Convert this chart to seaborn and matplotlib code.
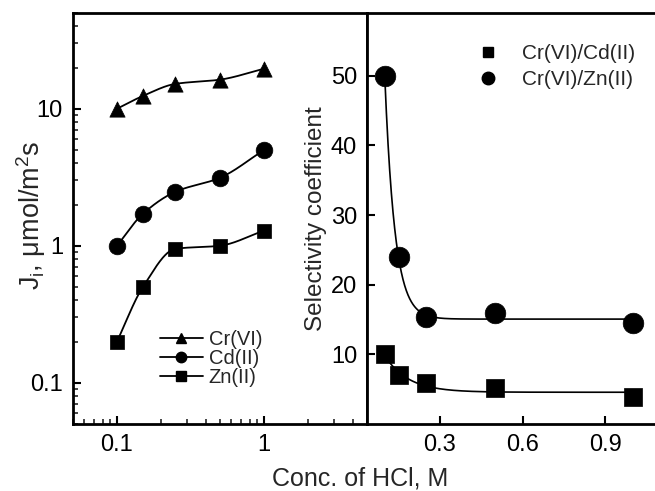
import numpy as np
import pandas as pd
import matplotlib
matplotlib.use('Agg')
import matplotlib.pyplot as plt
from matplotlib.lines import Line2D
from matplotlib.ticker import LogLocator, NullFormatter, FixedLocator
import seaborn as sns

# data
conc = [0.1, 0.15, 0.25, 0.5, 1.0]
flux_cr = [10.0, 12.4, 15.2, 16.3, 19.6]
flux_cd = [1.0, 1.71, 2.48, 3.13, 5.0]
flux_zn = [0.2, 0.5, 0.95, 1.0, 1.29]
sel_cr_cd = [10.0, 7.0, 5.9, 5.1, 3.9]
sel_cr_zn = [50.0, 24.0, 15.3, 15.9, 14.5]


def pchip(x, y, xs):
    '''Monotone cubic interpolation (Fritsch-Carlson)'''
    x = np.asarray(x, float)
    y = np.asarray(y, float)
    h = np.diff(x)
    d = np.diff(y) / h
    m = np.zeros_like(y)
    m[0], m[-1] = d[0], d[-1]
    for k in range(1, len(y) - 1):
        if d[k - 1] * d[k] > 0:
            w1 = 2 * h[k] + h[k - 1]
            w2 = h[k] + 2 * h[k - 1]
            m[k] = (w1 + w2) / (w1 / d[k - 1] + w2 / d[k])
    idx = np.clip(np.searchsorted(x, xs) - 1, 0, len(x) - 2)
    t = (xs - x[idx]) / h[idx]
    h00 = 2 * t**3 - 3 * t**2 + 1
    h10 = t**3 - 2 * t**2 + t
    h01 = -2 * t**3 + 3 * t**2
    h11 = t**3 - t**2
    return h00 * y[idx] + h10 * h[idx] * m[idx] + h01 * y[idx + 1] + h11 * h[idx] * m[idx + 1]


def exp_decay_fit(x, y, xs):
    '''Fit y = a + b*exp(-x/tau) by scanning tau and solving a, b'''
    x = np.asarray(x, float)
    y = np.asarray(y, float)
    best = None
    for tau in np.linspace(0.01, 0.5, 500):
        A = np.column_stack([np.ones_like(x), np.exp(-x / tau)])
        coef, res, _, _ = np.linalg.lstsq(A, y, rcond=None)
        err = np.sum((A @ coef - y) ** 2)
        if best is None or err < best[0]:
            best = (err, tau, coef)
    _, tau, coef = best
    return coef[0] + coef[1] * np.exp(-xs / tau)


sns.set_theme(style="ticks")
plt.rcParams['font.family'] = ['Liberation Sans', 'DejaVu Sans']
plt.rcParams['mathtext.fontset'] = 'custom'
plt.rcParams['mathtext.rm'] = 'Liberation Sans'
plt.rcParams['mathtext.it'] = 'Liberation Sans'

fig = plt.figure(figsize=(6.55, 4.91), dpi=100)
ax1 = fig.add_axes([0.111, 0.1365, 0.449, 0.837])
ax2 = fig.add_axes([0.560, 0.1365, 0.440, 0.837])

# left panel: fluxes, log-log
xs = np.logspace(np.log10(0.1), np.log10(1.0), 200)
lx = np.log10(conc)
series = [(flux_cr, '^', 11, 'Cr(VI)'), (flux_cd, 'o', 12, 'Cd(II)'), (flux_zn, 's', 10, 'Zn(II)')]
handles = []
for vals, mk, ms, lab in series:
    ys = 10 ** pchip(lx, np.log10(vals), np.log10(xs))
    sns.lineplot(x=xs, y=ys, ax=ax1, color='black', lw=1.3, estimator=None, sort=False)
    sns.scatterplot(x=conc, y=vals, ax=ax1, marker=mk, s=ms**2, color='black',
                    edgecolor='black', linewidth=0.5, zorder=5)
    handles.append(Line2D([], [], color='black', lw=1.3, marker=mk, markersize=7.5, label=lab))

ax1.set_xscale('log')
ax1.set_yscale('log')
ax1.set_xlim(0.05, 5)
ax1.set_ylim(0.05, 50)
ax1.set_xticks([0.1, 1])
ax1.set_xticklabels(['0.1', '1'])
ax1.set_yticks([0.1, 1, 10])
ax1.set_yticklabels(['0.1', '1', '10'])
ax1.xaxis.set_minor_locator(LogLocator(base=10, subs=np.arange(2, 10)))
ax1.yaxis.set_minor_locator(LogLocator(base=10, subs=np.arange(2, 10)))
ax1.xaxis.set_minor_formatter(NullFormatter())
ax1.yaxis.set_minor_formatter(NullFormatter())
ax1.set_ylabel(r'J$_\mathregular{i}$, $\mathregular{\mu}$mol/m$^\mathregular{2}$s', fontsize=19.5)
ax1.yaxis.set_label_coords(-0.085, 0.508)
ax1.legend(handles=handles, loc='lower left', bbox_to_anchor=(0.25, 0.055), frameon=False,
           fontsize=14.5, handlelength=2.1, handletextpad=0.3, labelspacing=0.0, borderpad=0.2)

# right panel: selectivity coefficients
xf = np.linspace(0.1, 1.0, 300)
sns.lineplot(x=xf, y=exp_decay_fit(conc, sel_cr_zn, xf), ax=ax2, color='black', lw=1.2, estimator=None)
sns.lineplot(x=xf, y=exp_decay_fit(conc, sel_cr_cd, xf), ax=ax2, color='black', lw=1.2, estimator=None)
sns.scatterplot(x=conc, y=sel_cr_cd, ax=ax2, marker='s', s=150, color='black', edgecolor='black',
                linewidth=0.5, zorder=5)
sns.scatterplot(x=conc, y=sel_cr_zn, ax=ax2, marker='o', s=220, color='black', edgecolor='black',
                linewidth=0.5, zorder=5)
h2 = [Line2D([], [], ls='none', marker='s', markersize=7.5, color='black', label='Cr(VI)/Cd(II)'),
      Line2D([], [], ls='none', marker='o', markersize=9, color='black', label='Cr(VI)/Zn(II)')]
ax2.legend(handles=h2, loc='upper right', bbox_to_anchor=(0.99, 0.965), frameon=False, fontsize=15,
           handlelength=1.0, handletextpad=1.15, labelspacing=0.35, borderpad=0.3)
ax2.set_xlim(0.035, 1.08)
ax2.set_ylim(0, 59)
ax2.xaxis.set_major_locator(FixedLocator([0.3, 0.6, 0.9]))
ax2.set_xticklabels(['0.3', '0.6', '0.9'])
ax2.set_yticks([10, 20, 30, 40, 50])
ax2.set_ylabel('Selectivity coefficient', fontsize=17.5, labelpad=3)
ax2.spines['right'].set_visible(False)

for ax in (ax1, ax2):
    ax.tick_params(which='major', direction='in', length=6, width=1.5, labelsize=17, colors='black',
                   top=False, right=False, pad=7)
    ax.tick_params(which='minor', direction='in', length=3.5, width=1.2, top=False, right=False)
    for sp in ax.spines.values():
        sp.set_linewidth(2)
        sp.set_color('black')
    ax.set_xlabel('')

fig.text(0.55, 0.025, 'Conc. of HCl, M', ha='center', va='center', fontsize=18)

fig.savefig('out.png', dpi=100)
